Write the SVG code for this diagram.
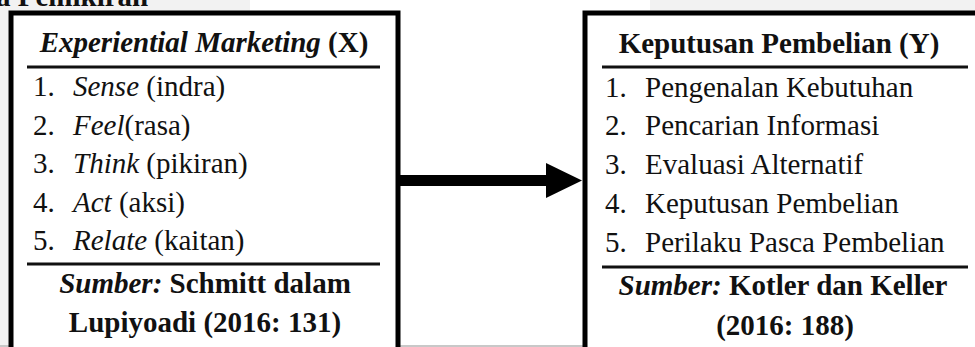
<svg xmlns="http://www.w3.org/2000/svg" width="975" height="347" viewBox="0 0 975 347">
<style>
text{font-family:"Liberation Serif","Times New Roman",serif;font-size:29px;fill:#111}
.b{font-weight:bold}
.i{font-style:italic}
.box{fill:#fff;stroke:#000;stroke-width:5}
.rule{stroke:#111;stroke-width:3}
</style>
<rect x="0" y="0" width="975" height="347" fill="#fff"/>
<rect x="0" y="0" width="250" height="11" fill="#f2f2f2"/>
<rect x="650" y="0" width="325" height="11" fill="#f2f2f2"/>
<rect x="0" y="0" width="8" height="347" fill="#f2f2f2"/>
<line x1="0" y1="346" x2="975" y2="346" stroke="#c8c8c8" stroke-width="2"/>
<text class="b" x="-4" y="6">a Pemikiran</text>

<g id="nodeX">
<rect class="box" x="11" y="13" width="387" height="360"/>
<text x="204" y="52" text-anchor="middle"><tspan class="b i">Experiential Marketing</tspan><tspan class="b"> (X)</tspan></text>
<line class="rule" x1="27" y1="67" x2="380" y2="67"/>
<text x="33" y="96">1.</text><text x="73" y="96"><tspan class="i">Sense</tspan> (indra)</text>
<text x="33" y="135">2.</text><text x="73" y="135"><tspan class="i">Feel</tspan>(rasa)</text>
<text x="33" y="173">3.</text><text x="73" y="173"><tspan class="i">Think</tspan> (pikiran)</text>
<text x="33" y="212">4.</text><text x="73" y="212"><tspan class="i">Act</tspan> (aksi)</text>
<text x="33" y="250">5.</text><text x="73" y="250"><tspan class="i">Relate</tspan> (kaitan)</text>
<line class="rule" x1="27" y1="264" x2="380" y2="264"/>
<text x="205" y="293" text-anchor="middle"><tspan class="b i">Sumber:</tspan><tspan class="b"> Schmitt dalam</tspan></text>
<text class="b" x="205" y="332" text-anchor="middle">Lupiyoadi (2016: 131)</text>
</g>

<g id="nodeY">
<rect class="box" x="585" y="13" width="400" height="360"/>
<text class="b" x="779" y="53" text-anchor="middle">Keputusan Pembelian (Y)</text>
<line class="rule" x1="602" y1="67" x2="968" y2="67"/>
<text x="605" y="97">1.</text><text x="645" y="97">Pengenalan Kebutuhan</text>
<text x="605" y="135">2.</text><text x="645" y="135">Pencarian Informasi</text>
<text x="605" y="174">3.</text><text x="645" y="174">Evaluasi Alternatif</text>
<text x="605" y="213">4.</text><text x="645" y="213">Keputusan Pembelian</text>
<text x="605" y="252">5.</text><text x="645" y="252">Perilaku Pasca Pembelian</text>
<line class="rule" x1="602" y1="267" x2="968" y2="267"/>
<text x="783" y="295" text-anchor="middle"><tspan class="b i">Sumber:</tspan><tspan class="b"> Kotler dan Keller</tspan></text>
<text class="b" x="785" y="335" text-anchor="middle">(2016: 188)</text>
</g>

<g id="connectors">
<line x1="400" y1="180.5" x2="548" y2="180.5" stroke="#000" stroke-width="11"/>
<polygon points="546,163 582,180.5 546,198" fill="#000"/>
</g>
</svg>
